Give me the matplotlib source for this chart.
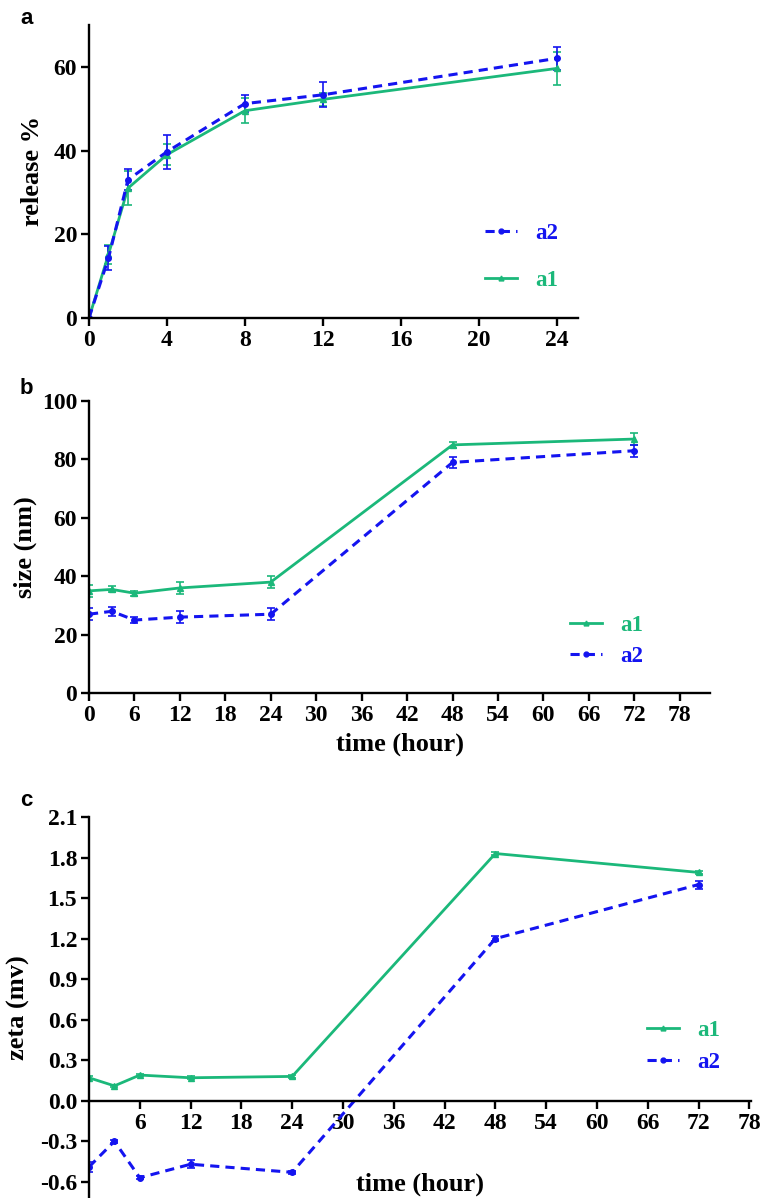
import matplotlib
matplotlib.use('Agg')
import matplotlib.pyplot as plt
from matplotlib.lines import Line2D

# panel a: release
time_a = [0, 1, 2, 4, 8, 12, 24]
a2_release = [0, 14.3, 33, 39.7, 51.2, 53.3, 62]
a2_release_err = [0, 2.8, 2.5, 4, 2, 3, 2.8]
a1_release = [0, 15.2, 31, 39, 49.5, 52.2, 59.6]
a1_release_err = [0, 2.2, 4, 2.5, 3, 1.5, 4]

# panel b: size
time_b = [0, 3, 6, 12, 24, 48, 72]
a1_size = [35, 35.5, 34.2, 36, 38, 85, 87]
a1_size_err = [2, 1, 0.8, 2, 2, 1, 2]
a2_size = [27, 28, 25, 26, 27, 79, 83]
a2_size_err = [2, 1.5, 1, 2, 2, 2, 2]

# panel c: zeta
time_c = [0, 3, 6, 12, 24, 48, 72]
a1_zeta = [0.17, 0.11, 0.19, 0.17, 0.18, 1.83, 1.69]
a1_zeta_err = [0.01, 0.01, 0.01, 0.01, 0.01, 0.01, 0.01]
a2_zeta = [-0.49, -0.30, -0.57, -0.47, -0.53, 1.20, 1.60]
a2_zeta_err = [0.04, 0.01, 0.01, 0.03, 0.01, 0.02, 0.03]

GREEN = '#1bb87a'
BLUE = '#1414f0'
SERIF = 'Liberation Serif'
A2_DASH = (0, (3, 2))

plt.rcParams['font.family'] = SERIF
plt.rcParams['font.weight'] = 'bold'

fig = plt.figure(figsize=(7.62, 11.98), dpi=100)


def style_axes(ax):
    for side in ['top', 'right']:
        ax.spines[side].set_visible(False)
    for side in ['left', 'bottom']:
        ax.spines[side].set_linewidth(1.7)
    ax.tick_params(direction='out', length=5.5, width=1.7, labelsize=17, pad=3)
    for lab in ax.get_xticklabels() + ax.get_yticklabels():
        lab.set_fontweight('bold')


def draw_a1(ax, t, y, err):
    ax.errorbar(t, y, yerr=err, color=GREEN, lw=2.0, marker='^', ms=4,
                capsize=2.8, elinewidth=1.2, capthick=1.2)


def draw_a2(ax, t, y, err):
    ax.errorbar(t, y, yerr=err, color=BLUE, lw=2.2, ls=A2_DASH, marker='o', ms=4,
                capsize=2.8, elinewidth=1.2, capthick=1.2)


def add_legend(ax, order, x, y, spacing):
    hmap = {
        'a1': Line2D([], [], color=GREEN, lw=2.0, marker='^', ms=3.5),
        'a2': Line2D([], [], color=BLUE, lw=2.2, ls=A2_DASH, marker='o', ms=3.5),
    }
    leg = ax.legend([hmap[k] for k in order], order, loc='center left',
                    bbox_to_anchor=(x, y), frameon=False, borderpad=0, borderaxespad=0,
                    handlelength=1.4, handletextpad=0.8, labelspacing=spacing,
                    prop={'family': SERIF, 'weight': 'bold', 'size': 16.5})
    for txt, k in zip(leg.get_texts(), order):
        txt.set_color(GREEN if k == 'a1' else BLUE)


# ---- panel a
ax = fig.add_axes([0.1168, 0.7346, 0.6417, 0.2446])
draw_a1(ax, time_a, a1_release, a1_release_err)
draw_a2(ax, time_a, a2_release, a2_release_err)
ax.set_xlim(0, 25.1)
ax.set_ylim(0, 70)
ax.set_xticks([0, 4, 8, 12, 16, 20, 24])
ax.set_yticks([0, 20, 40, 60])
ax.set_ylabel('release %', fontsize=19, fontweight='bold')
ax.yaxis.set_label_coords(-0.092, 0.5)
style_axes(ax)
add_legend(ax, ['a2', 'a1'], 0.81, 0.208, 1.1)
fig.text(20 / 762, 1 - 8 / 1198, 'a', family='Liberation Sans', weight='bold', size=16, va='top')

# ---- panel b
ax = fig.add_axes([0.1168, 0.4215, 0.815, 0.2437])
draw_a1(ax, time_b, a1_size, a1_size_err)
draw_a2(ax, time_b, a2_size, a2_size_err)
ax.set_xlim(0, 82)
ax.set_ylim(0, 100)
ax.set_xticks(range(0, 79, 6))
ax.set_yticks(range(0, 101, 20))
ax.set_ylabel('size (nm)', fontsize=19, fontweight='bold')
ax.yaxis.set_label_coords(-0.083, 0.5)
ax.set_xlabel('time (hour)', fontsize=19, fontweight='bold')
ax.xaxis.set_label_coords(0.5, -0.135)
style_axes(ax)
add_legend(ax, ['a1', 'a2'], 0.775, 0.178, 0.45)
fig.text(20 / 762, 1 - 378 / 1198, 'b', family='Liberation Sans', weight='bold', size=16, va='top')

# ---- panel c
ax = fig.add_axes([0.1168, 0.0, 0.8688, 0.318])
draw_a1(ax, time_c, a1_zeta, a1_zeta_err)
draw_a2(ax, time_c, a2_zeta, a2_zeta_err)
ax.set_xlim(0, 78.2)
ax.set_ylim(-0.72, 2.1)
ax.spines['bottom'].set_position(('data', 0))
ax.set_xticks(range(6, 79, 6))
ax.set_yticks([-0.6, -0.3, 0.0, 0.3, 0.6, 0.9, 1.2, 1.5, 1.8, 2.1])
ax.set_yticklabels(['%.1f' % v for v in ax.get_yticks()])
ax.set_ylabel('zeta (mv)', fontsize=19, fontweight='bold')
ax.yaxis.set_label_coords(-0.089, 0.5)
ax.set_xlabel('time (hour)', fontsize=19, fontweight='bold')
ax.xaxis.set_label_coords(0.5, 0.068)
style_axes(ax)
add_legend(ax, ['a1', 'a2'], 0.843, 0.398, 0.45)
fig.text(20 / 762, 1 - 790 / 1198, 'c', family='Liberation Sans', weight='bold', size=16, va='top')

fig.savefig('out.png', dpi=100)
